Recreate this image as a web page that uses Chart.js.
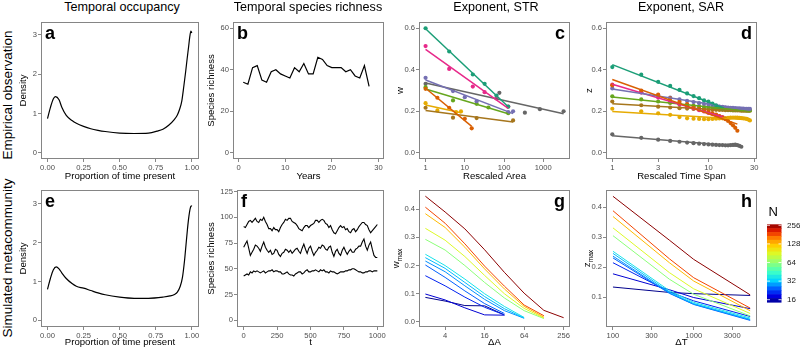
<!DOCTYPE html>
<html lang="en">
<head>
<meta charset="utf-8">
<title>Temporal occupancy, richness and scaling exponents</title>
<script src="https://cdn.jsdelivr.net/npm/chart.js@4.4.0/dist/chart.umd.min.js"></script>
<style>
  html, body { margin: 0; padding: 0; background: #fff; }
  body { width: 800px; height: 348px; position: relative; overflow: hidden;
         font-family: "Liberation Sans", Arial, Helvetica, sans-serif; }
  canvas { position: absolute; }
  .coltitle { position: absolute; top: 0; font-size: 12.6px; line-height: 15px;
              transform: translateX(-50%); white-space: nowrap; color: #000; }
  .rowtitle { position: absolute; font-size: 13.5px; white-space: nowrap; color: #000;
              transform: translate(-50%, -50%) rotate(-90deg); }
</style>
</head>
<body>
<canvas id="pa"></canvas>
<canvas id="pb"></canvas>
<canvas id="pc"></canvas>
<canvas id="pd"></canvas>
<canvas id="pe"></canvas>
<canvas id="pf"></canvas>
<canvas id="pg"></canvas>
<canvas id="ph"></canvas>

<div class="coltitle" style="left:122px">Temporal occupancy</div>
<div class="coltitle" style="left:308px">Temporal species richness</div>
<div class="coltitle" style="left:496px">Exponent, STR</div>
<div class="coltitle" style="left:681px">Exponent, SAR</div>
<div class="rowtitle" style="left:7px; top:95px">Empirical observation</div>
<div class="rowtitle" style="left:7px; top:258px">Simulated metacommunity</div>

<script>
const FONT = '"Liberation Sans", Arial, Helvetica, sans-serif';
const TITLE_SIZE = 9.6;

// ---- a: temporal occupancy (empirical) ----
const occEmpX = [0, 0.02, 0.04, 0.055, 0.08, 0.1, 0.13, 0.17, 0.2, 0.25,
                 0.3, 0.35, 0.4, 0.5, 0.6, 0.7, 0.76, 0.8, 0.84, 0.88,
                 0.9, 0.915, 0.93, 0.945, 0.957, 0.968, 0.978, 0.986, 0.994, 1.0];
const occEmpY = [0.87, 1.15, 1.37, 1.43, 1.35, 1.15, 0.95, 0.82, 0.75, 0.67,
                 0.61, 0.57, 0.54, 0.5, 0.49, 0.5, 0.55, 0.6, 0.7, 0.85,
                 0.96, 1.1, 1.3, 1.7, 2.05, 2.4, 2.7, 2.95, 3.1, 3.05];

// ---- e: temporal occupancy (simulated) ----
const occSimX = [0, 0.02, 0.04, 0.06, 0.08, 0.1, 0.13, 0.17, 0.2, 0.25,
                 0.3, 0.35, 0.4, 0.5, 0.6, 0.7, 0.8, 0.85, 0.88, 0.9,
                 0.92, 0.935, 0.95, 0.96, 0.97, 0.98, 0.99, 1.0];
const occSimY = [0.8, 1.08, 1.3, 1.38, 1.33, 1.22, 1.08, 0.95, 0.88, 0.83,
                 0.77, 0.71, 0.66, 0.6, 0.57, 0.57, 0.6, 0.63, 0.67, 0.73,
                 0.88, 1.1, 1.55, 1.95, 2.35, 2.68, 2.9, 2.96];

// ---- b: species richness per year ----
const years = [1, 2, 3, 4, 5, 6, 7, 8, 9, 10, 11, 12, 13, 14,
               15, 16, 17, 18, 19, 20, 21, 22, 23, 24, 25, 26, 27, 28];
const richEmp = [34, 33, 41, 42, 35, 34, 39, 40, 38, 37, 36, 41, 39, 43,
                 38, 38, 46, 45, 42, 41, 41, 41, 39, 40, 37, 36, 42, 32];

// ---- f: simulated richness, sampled every 12.5 time steps ----
const simStep = 12.5;
const richSimHigh = [91, 90, 93, 96, 97, 95, 97, 99, 96, 95, 98, 97, 100, 96, 93, 89, 89, 87, 90, 88,
                     88, 86, 90, 93, 95, 98, 97, 99, 99, 96, 95, 94, 92, 89, 88, 87, 90, 92, 92, 90,
                     92, 93, 94, 97, 97, 95, 97, 98, 97, 94, 93, 90, 92, 88, 85, 84, 87, 90, 92, 90,
                     91, 88, 89, 86, 85, 88, 89, 86, 88, 91, 93, 95, 95, 93, 92, 88, 85, 87, 89, 91, 93];
const richSimMid = [71, 74, 77, 70, 63, 66, 69, 73, 72, 70, 67, 72, 76, 71, 68, 66, 68, 64, 65, 69,
                    68, 64, 62, 65, 66, 69, 68, 66, 68, 65, 67, 69, 70, 67, 65, 70, 74, 69, 65, 70,
                    72, 67, 63, 66, 68, 71, 70, 73, 72, 69, 68, 71, 72, 66, 62, 67, 69, 65, 63, 68,
                    71, 67, 64, 67, 69, 66, 66, 69, 70, 72, 72, 76, 79, 72, 68, 73, 76, 69, 63, 61, 61];
const richSimLow = [43, 44, 45, 44, 47, 46, 48, 47, 48, 47, 46, 47, 48, 46, 47, 48, 48, 49, 47, 48,
                    48, 47, 47, 45, 45, 46, 47, 45, 44, 44, 43, 45, 46, 47, 47, 45, 46, 48, 49, 47,
                    47, 48, 48, 49, 48, 47, 49, 48, 49, 47, 47, 46, 48, 47, 47, 46, 45, 46, 47, 47,
                    47, 48, 48, 49, 49, 50, 50, 49, 48, 47, 47, 46, 46, 47, 47, 48, 48, 47, 48, 48, 48];

// ---- c: STR exponent w vs rescaled area (8 datasets) ----
const strArea = [
  [1, 4, 16, 32, 64, 128],
  [1, 2, 4, 10, 15],
  [1, 5, 10, 20, 128, 170],
  [1, 4, 16, 32, 64, 128],
  [1, 5, 20, 40, 128],
  [1, 2, 6, 8],
  [1, 5, 20, 170],
  [1, 76, 340, 820, 3300]
];
const strW = [
  [0.600, 0.488, 0.377, 0.332, 0.276, 0.222],
  [0.308, 0.265, 0.217, 0.164, 0.118],
  [0.361, 0.297, 0.268, 0.248, 0.196, 0.200],
  [0.514, 0.404, 0.319, 0.292, 0.262, 0.223],
  [0.316, 0.252, 0.236, 0.218, 0.191],
  [0.239, 0.204, 0.196, 0.199],
  [0.217, 0.169, 0.167, 0.156],
  [0.332, 0.289, 0.193, 0.210, 0.200]
];

// ---- d: SAR exponent z vs rescaled time span 1..n ----
const sarZ = [
  [0.413, 0.376, 0.342, 0.322, 0.303, 0.286, 0.273, 0.263, 0.252, 0.246, 0.237, 0.228, 0.219, 0.212],
  [0.325, 0.300, 0.280, 0.262, 0.246, 0.234, 0.222, 0.213, 0.205, 0.197, 0.190, 0.184, 0.177, 0.170,
   0.162, 0.153, 0.143, 0.132, 0.120, 0.106],
  [0.310, 0.292, 0.277, 0.266, 0.257, 0.250, 0.244, 0.239, 0.235, 0.231, 0.228, 0.226, 0.223, 0.221,
   0.219, 0.218, 0.217, 0.216, 0.215, 0.214, 0.214, 0.213, 0.213, 0.212, 0.212, 0.211, 0.211],
  [0.328, 0.290, 0.266, 0.246, 0.234, 0.222, 0.214, 0.205, 0.199, 0.192, 0.187, 0.181, 0.176, 0.172],
  [0.272, 0.257, 0.247, 0.240, 0.234, 0.230, 0.226, 0.223, 0.220, 0.218, 0.216, 0.214, 0.212, 0.211,
   0.210, 0.209, 0.208, 0.207, 0.207, 0.206, 0.206, 0.205, 0.205, 0.205, 0.204, 0.204, 0.204],
  [0.212, 0.200, 0.190, 0.183, 0.172, 0.166, 0.164, 0.163, 0.162, 0.162, 0.163, 0.164, 0.165, 0.166,
   0.167, 0.168, 0.169, 0.170, 0.170, 0.169, 0.168, 0.167, 0.166, 0.165, 0.163, 0.160, 0.156],
  [0.247, 0.229, 0.222, 0.218, 0.215, 0.213, 0.211, 0.210, 0.209, 0.208, 0.207, 0.207, 0.206, 0.206,
   0.205, 0.205, 0.205, 0.204, 0.204, 0.204, 0.204, 0.203, 0.203, 0.203, 0.203, 0.203, 0.203],
  [0.089, 0.072, 0.063, 0.057, 0.053, 0.049, 0.046, 0.044, 0.042, 0.040, 0.039, 0.038, 0.037, 0.037,
   0.036, 0.036, 0.037, 0.038, 0.039, 0.037, 0.033, 0.029]
];
const dark2 = ['#1B9E77', '#D95F02', '#7570B3', '#E7298A', '#66A61E', '#E6AB02', '#A6761D', '#666666'];

// ---- g, h: simulated exponents by metacommunity size N ----
const simN = [16, 19, 22, 26, 29, 32, 38, 64, 90, 128, 181, 256];
const deltaA = [2, 4, 8, 16, 32, 64, 128, 256];
const wMax = [
  [0.087, 0.074, 0.058, 0.057, 0.025],
  [0.099, 0.078, 0.050, 0.025, 0.024],
  [0.164, 0.128, 0.088, 0.052, 0.025],
  [0.202, 0.158, 0.110, 0.065, 0.030],
  [0.216, 0.178, 0.128, 0.080, 0.040, 0.013],
  [0.228, 0.190, 0.140, 0.090, 0.047, 0.014],
  [0.240, 0.200, 0.152, 0.100, 0.055, 0.016],
  [0.293, 0.255, 0.200, 0.140, 0.085, 0.040, 0.012],
  [0.332, 0.290, 0.232, 0.165, 0.100, 0.048, 0.014],
  [0.384, 0.335, 0.265, 0.188, 0.117, 0.055, 0.017],
  [0.407, 0.350, 0.277, 0.198, 0.127, 0.060, 0.022],
  [0.446, 0.390, 0.330, 0.256, 0.176, 0.102, 0.041, 0.015]
];
const deltaT = [100, 500, 1000, 5000];
const zMax = [
  [0.134, 0.116, 0.112, 0.106],
  [0.178, 0.125, 0.099, 0.062],
  [0.215, 0.118, 0.088, 0.036],
  [0.231, 0.113, 0.076, 0.023],
  [0.237, 0.114, 0.077, 0.025],
  [0.246, 0.117, 0.079, 0.027],
  [0.253, 0.122, 0.083, 0.031],
  [0.305, 0.160, 0.110, 0.038],
  [0.331, 0.182, 0.128, 0.046],
  [0.369, 0.215, 0.154, 0.055],
  [0.388, 0.228, 0.165, 0.064],
  [0.436, 0.290, 0.226, 0.108]
];
const legendN = [16, 32, 64, 128, 256];

// colour ramp for N (log2 scale, 16 -> 256)
const ramp = [
  [0.00, [0, 0, 140]], [0.08, [0, 0, 230]], [0.17, [0, 90, 255]], [0.27, [0, 210, 255]],
  [0.38, [60, 255, 200]], [0.50, [140, 255, 120]], [0.62, [220, 250, 40]], [0.72, [255, 210, 0]],
  [0.82, [255, 130, 0]], [0.91, [235, 30, 0]], [1.00, [140, 0, 0]]
];
function rampColor(t) {
  t = Math.max(0, Math.min(1, t));
  for (let i = 1; i < ramp.length; i++) {
    if (t <= ramp[i][0]) {
      const [t0, c0] = ramp[i - 1], [t1, c1] = ramp[i];
      const f = (t - t0) / (t1 - t0);
      const c = c0.map((v, k) => Math.round(v + f * (c1[k] - v)));
      return 'rgb(' + c.join(',') + ')';
    }
  }
}
const nToT = n => Math.log2(n / 16) / 4;

// ---- helpers ----
function pairs(xs, ys) { return ys.map((y, i) => ({ x: xs[i], y })); }

function lineSet(xs, ys, color, width, smooth) {
  return { data: pairs(xs, ys), showLine: true, borderColor: color, borderWidth: width,
           pointRadius: 0, tension: smooth ? 0.4 : 0,
           cubicInterpolationMode: smooth ? 'monotone' : 'default' };
}
function pointSet(xs, ys, color) {
  return { data: pairs(xs, ys), showLine: false, pointRadius: 2.1, pointBorderWidth: 0,
           backgroundColor: color, borderColor: color };
}
// least squares fit of y on log10(x), drawn over the range of x
function fitSet(xs, ys, color) {
  const lx = xs.map(Math.log10);
  const mx = lx.reduce((a, b) => a + b) / lx.length;
  const my = ys.reduce((a, b) => a + b) / ys.length;
  let sxy = 0, sxx = 0;
  lx.forEach((v, i) => { sxy += (v - mx) * (ys[i] - my); sxx += (v - mx) * (v - mx); });
  const b = sxy / sxx, a = my - b * mx;
  const x0 = Math.min(...xs), x1 = Math.max(...xs);
  return lineSet([x0, x1], [a + b * Math.log10(x0), a + b * Math.log10(x1)], color, 1.5, false);
}

function axis(o) {
  return {
    type: o.type || 'linear', min: o.min, max: o.max,
    title: { display: !!o.title, text: o.title, color: '#000',
             font: { family: FONT, size: TITLE_SIZE }, padding: 0 },
    ticks: { color: '#4d4d4d', font: { family: FONT, size: 7.6 }, padding: 1,
             autoSkip: false, maxRotation: 0, callback: o.fmt },
    grid: { drawOnChartArea: false, drawTicks: true, tickLength: 3, color: '#555', lineWidth: 0.7 },
    border: { display: false },
    afterBuildTicks: s => { s.ticks = o.ticks.map(v => ({ value: v })); },
    afterFit: s => { if (s.isHorizontal()) s.height = o.size; else s.width = o.size; }
  };
}

// box, panel letter, subscripted y title, N colour bar
const framePlugin = {
  id: 'frame',
  afterDraw(chart, args, o) {
    const { ctx, chartArea: a } = chart;
    ctx.save();
    ctx.strokeStyle = '#858585';
    ctx.lineWidth = 1;
    ctx.strokeRect(Math.round(a.left) + 0.5, Math.round(a.top) + 0.5,
                   Math.round(a.right - a.left) - 1, Math.round(a.bottom - a.top) - 1);
    if (o.letter) {
      ctx.font = 'bold 18px ' + FONT;
      ctx.fillStyle = '#000';
      ctx.textBaseline = 'alphabetic';
      ctx.textAlign = o.right ? 'right' : 'left';
      ctx.fillText(o.letter, o.right ? a.right - 5 : a.left + 4, a.top + 16.5);
    }
    if (o.ytitle) {
      const cx = chart.scales.y.left + TITLE_SIZE * 0.6, cy = (a.top + a.bottom) / 2;
      ctx.translate(cx, cy);
      ctx.rotate(-Math.PI / 2);
      ctx.fillStyle = '#000';
      ctx.textBaseline = 'middle';
      ctx.textAlign = 'left';
      ctx.font = TITLE_SIZE + 'px ' + FONT;
      const wm = ctx.measureText(o.ytitle[0]).width;
      ctx.font = '6.6px ' + FONT;
      const ws = ctx.measureText(o.ytitle[1]).width;
      const x0 = -(wm + ws) / 2;
      ctx.font = TITLE_SIZE + 'px ' + FONT;
      ctx.fillText(o.ytitle[0], x0, -1);
      ctx.font = '6.6px ' + FONT;
      ctx.fillText(o.ytitle[1], x0 + wm, 2.6);
      ctx.setTransform(1, 0, 0, 1, 0, 0);
    }
    if (o.colorbar) {
      const bx = a.right + 10, bw = 14.5, top = 40.3, bot = 118;
      const nb = 20, bh = (bot - top) / nb;
      for (let i = 0; i < nb; i++) {
        ctx.fillStyle = rampColor(1 - (i + 0.5) / nb);
        ctx.fillRect(bx, top + i * bh, bw, bh + 0.6);
      }
      const yOf = n => 41.3 + (8 - Math.log2(n)) * 18.6;
      ctx.strokeStyle = '#fff';
      ctx.lineWidth = 0.8;
      ctx.fillStyle = '#1a1a1a';
      ctx.font = '8px ' + FONT;
      ctx.textAlign = 'left';
      ctx.textBaseline = 'middle';
      legendN.forEach(n => {
        const y = yOf(n);
        ctx.beginPath();
        ctx.moveTo(bx, y); ctx.lineTo(bx + 3, y);
        ctx.moveTo(bx + bw - 3, y); ctx.lineTo(bx + bw, y);
        ctx.stroke();
        ctx.fillText(String(n), bx + bw + 5.5, y);
      });
      ctx.font = '13px ' + FONT;
      ctx.fillStyle = '#000';
      ctx.fillText('N', bx + 1.5, 28);
    }
    ctx.restore();
  }
};
Chart.register(framePlugin);

const ROW = [{ top: 16, h: 166, xh: 23 }, { top: 184, h: 164, xh: 21 }];

function panel(id, row, left, boxL, boxR, padR, xAx, yAx, datasets, frame) {
  const r = ROW[row];
  const cv = document.getElementById(id);
  const w = boxR - left + padR;
  cv.width = w; cv.height = r.h;
  cv.style.left = left + 'px'; cv.style.top = r.top + 'px';
  cv.style.width = w + 'px'; cv.style.height = r.h + 'px';
  xAx.size = r.xh;
  yAx.size = boxL - left;
  return new Chart(cv, {
    type: 'scatter',
    data: { datasets },
    options: {
      responsive: false, animation: false, events: [], devicePixelRatio: 1,
      layout: { padding: { top: 6, right: padR, bottom: 0, left: 0 }, autoPadding: false },
      plugins: { legend: { display: false }, tooltip: { enabled: false }, frame },
      scales: { x: axis(xAx), y: axis(yAx) }
    }
  });
}

const f2 = v => v.toFixed(2), f1 = v => v.toFixed(1), f0 = v => String(v);

// a
panel('pa', 0, 18, 41, 199, 12,
  { min: -0.045, max: 1.05, ticks: [0, 0.25, 0.5, 0.75, 1], fmt: f2, title: 'Proportion of time present' },
  { min: -0.16, max: 3.33, ticks: [0, 1, 2, 3], fmt: f0, title: 'Density' },
  [lineSet(occEmpX, occEmpY, '#000', 1.2, true)], { letter: 'a' });

// b
panel('pb', 0, 206, 233, 384, 12,
  { min: -1.2, max: 31.2, ticks: [0, 10, 20, 30], fmt: f0, title: 'Years' },
  { min: -3, max: 63, ticks: [0, 20, 40, 60], fmt: f0, title: 'Species richness' },
  [lineSet(years, richEmp, '#000', 1.2, false)], { letter: 'b' });

// c
const cSets = [];
strArea.forEach((xs, i) => cSets.push(fitSet(xs, strW[i], dark2[i])));
strArea.forEach((xs, i) => cSets.push(pointSet(xs, strW[i], dark2[i])));
panel('pc', 0, 395, 419, 570, 12,
  { type: 'logarithmic', min: 0.68, max: 4800, ticks: [1, 10, 100, 1000], fmt: f0, title: 'Rescaled Area' },
  { min: -0.03, max: 0.63, ticks: [0, 0.2, 0.4, 0.6], fmt: f1, title: 'w' },
  cSets, { letter: 'c', right: true });

// d
const dSets = [];
const spans = sarZ.map(zs => zs.map((z, i) => i + 1));
sarZ.forEach((zs, i) => dSets.push(fitSet(spans[i], zs, dark2[i])));
sarZ.forEach((zs, i) => dSets.push(pointSet(spans[i], zs, dark2[i])));
panel('pd', 0, 584, 606, 757, 12,
  { type: 'logarithmic', min: 0.86, max: 32, ticks: [1, 3, 10, 30], fmt: f0, title: 'Rescaled Time Span' },
  { min: -0.03, max: 0.63, ticks: [0, 0.2, 0.4, 0.6], fmt: f1, title: 'z' },
  dSets, { letter: 'd', right: true });

// e
panel('pe', 1, 18, 41, 199, 12,
  { min: -0.045, max: 1.05, ticks: [0, 0.25, 0.5, 0.75, 1], fmt: f2, title: 'Proportion of time present' },
  { min: -0.17, max: 3.36, ticks: [0, 1, 2, 3], fmt: f0, title: 'Density' },
  [lineSet(occSimX, occSimY, '#000', 1.2, true)], { letter: 'e' });

// f
const simT = richSimHigh.map((v, i) => i * simStep);
panel('pf', 1, 206, 237, 384, 12,
  { min: -50, max: 1050, ticks: [0, 250, 500, 750, 1000], fmt: f0, title: 't' },
  { min: -6.5, max: 126.5, ticks: [0, 25, 50, 75, 100, 125], fmt: f0, title: 'Species richness' },
  [lineSet(simT, richSimHigh, '#000', 1.1, false),
   lineSet(simT, richSimMid, '#000', 1.1, false),
   lineSet(simT, richSimLow, '#000', 1.1, false)], { letter: 'f' });

// g
const gSets = wMax.map((ws, i) => lineSet(deltaA.slice(0, ws.length), ws, rampColor(nToT(simN[i])), 1, false)).reverse();
panel('pg', 1, 392, 419, 570, 12,
  { type: 'logarithmic', min: 1.6, max: 320, ticks: [4, 16, 64, 256], fmt: f0, title: 'ΔA' },
  { min: -0.018, max: 0.468, ticks: [0, 0.1, 0.2, 0.3, 0.4], fmt: f1, title: '' },
  gSets, { letter: 'g', right: true, ytitle: ['w', 'max'] });

// h
const hSets = zMax.map((zs, i) => lineSet(deltaT, zs, rampColor(nToT(simN[i])), 1, false)).reverse();
panel('ph', 1, 583, 606, 757, 43,
  { type: 'logarithmic', min: 82, max: 6080, ticks: [100, 300, 1000, 3000], fmt: f0, title: 'ΔT' },
  { min: 0.001, max: 0.457, ticks: [0.1, 0.2, 0.3, 0.4], fmt: f1, title: '' },
  hSets, { letter: 'h', right: true, ytitle: ['z', 'max'], colorbar: true });
</script>
</body>
</html>
